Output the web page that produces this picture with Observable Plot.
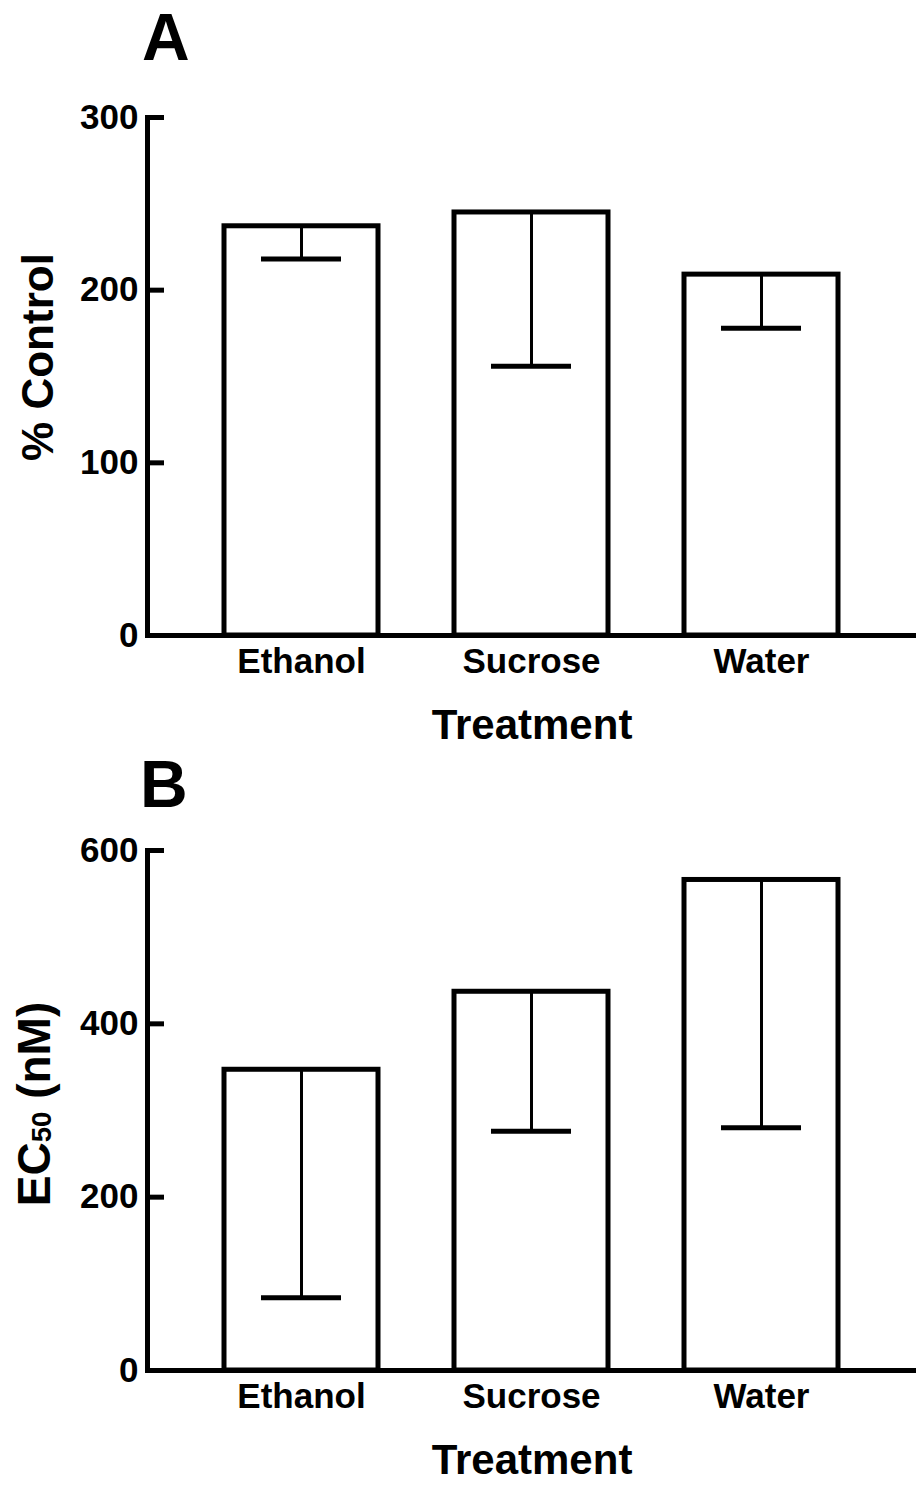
<!DOCTYPE html>
<html><head><meta charset="utf-8">
<script src="https://cdn.jsdelivr.net/npm/d3@7"></script>
<script src="https://cdn.jsdelivr.net/npm/@observablehq/plot@0.6"></script>
<style>
body{margin:0;background:#fff;}
#wrap{position:relative;width:916px;height:1485px;overflow:hidden;font-family:"Liberation Sans",Arial,Helvetica,sans-serif;font-weight:bold;color:#000;background:#fff;}
#wrap svg{display:block;}
.panel{position:absolute;font-size:66px;line-height:1;}
.ylab{position:absolute;white-space:nowrap;line-height:1;transform:translate(-50%,-50%) rotate(-90deg);}
.ylab sub{font-size:0.6em;vertical-align:-0.05em;}
</style></head><body><div id="wrap"></div>
<script>
// ---- data ----
const treatments = ["Ethanol", "Sucrose", "Water"];
const controlMean = [237, 245, 209];
const controlLower = [218, 156, 178];
const ec50Mean = [347, 437, 566];
const ec50Lower = [84, 276, 280];
const controlTicks = [0, 100, 200, 300];
const ec50Ticks = [0, 200, 400, 600];
const xLabel = "Treatment";

const font = '"Liberation Sans", Arial, Helvetica, sans-serif';

function panel(means, lowers, ticks, height, marginTop) {
  const data = treatments.map((t, i) => ({treatment: t, mean: means[i], lower: lowers[i]}));
  return Plot.plot({
    width: 916,
    height,
    marginTop,
    marginBottom: 115,
    marginLeft: 147,
    marginRight: 0,
    style: {fontFamily: font, fontWeight: "bold", background: "white", color: "black", overflow: "visible"},
    x: {domain: treatments, padding: 0.33, axis: null},
    y: {domain: [0, ticks[ticks.length - 1]], axis: null},
    marks: [
      Plot.barY(data, {x: "treatment", y: "mean", fill: "white", stroke: "black", strokeWidth: 5}),
      Plot.ruleX(data, {x: "treatment", y1: "mean", y2: "lower", stroke: "black", strokeWidth: 3}),
      Plot.tickY(data, {x: "treatment", y: "lower", stroke: "black", strokeWidth: 5, insetLeft: 37, insetRight: 37}),
      Plot.ruleY([0], {stroke: "black", strokeWidth: 5}),
      Plot.frame({anchor: "left", stroke: "black", strokeWidth: 5}),
      // inward tick marks
      Plot.axisY(ticks, {tickSize: 17, dx: 17, strokeWidth: 5, tickFormat: () => "", label: null}),
      // tick labels
      Plot.axisY(ticks, {tickSize: 0, tickPadding: 9, fontSize: 35, fontWeight: "bold", label: null}),
      Plot.axisX({tickSize: 0, tickPadding: 13, fontSize: 35, fontWeight: "bold", label: null}),
      Plot.text([xLabel], {text: d => d, frameAnchor: "bottom", dy: 90, lineAnchor: "middle", fontSize: 42, fontWeight: "bold"})
    ]
  });
}

const wrap = document.getElementById("wrap");
wrap.appendChild(panel(controlMean, controlLower, controlTicks, 750, 117));
wrap.appendChild(panel(ec50Mean, ec50Lower, ec50Ticks, 735, 100));

function addLabel(cls, html, styles) {
  const d = document.createElement("div");
  d.className = cls;
  d.innerHTML = html;
  Object.assign(d.style, styles);
  wrap.appendChild(d);
}
addLabel("panel", "A", {left: "142px", top: "4px"});
addLabel("panel", "B", {left: "140px", top: "751px"});
addLabel("ylab", "% Control", {left: "38px", top: "357px", fontSize: "44px"});
addLabel("ylab", "EC<sub>50</sub> (nM)", {left: "34px", top: "1104px", fontSize: "46px"});
</script>
</body></html>
